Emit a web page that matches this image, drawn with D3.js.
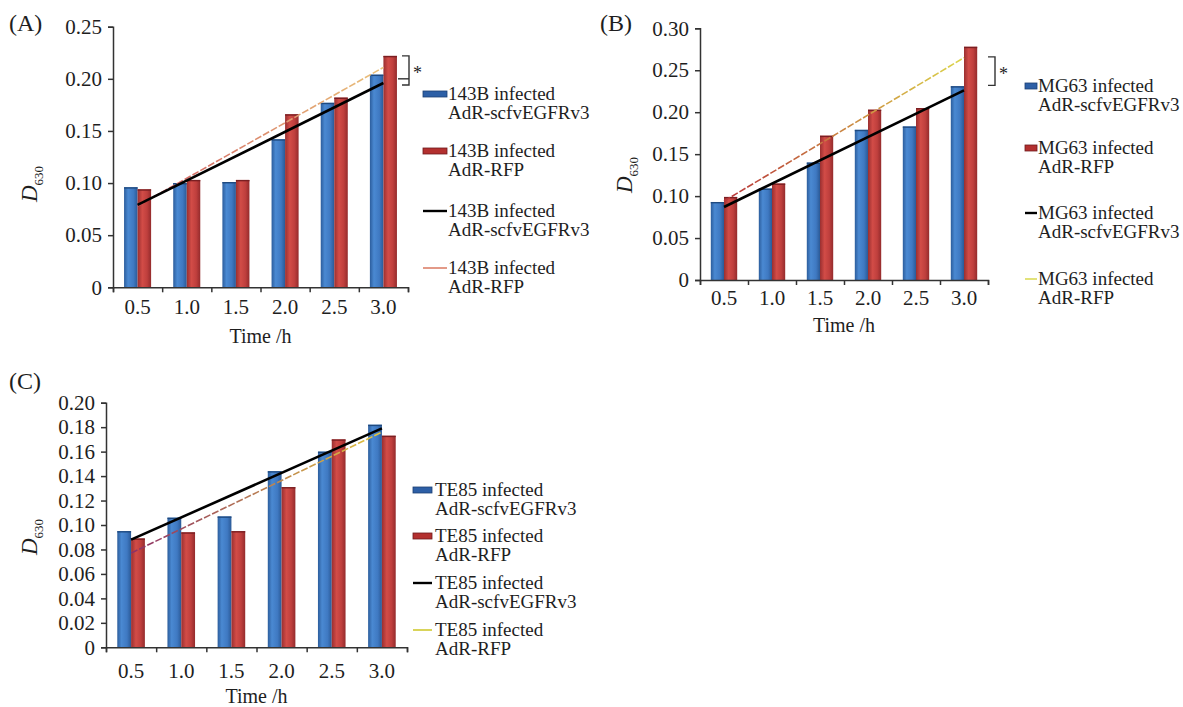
<!DOCTYPE html>
<html>
<head>
<meta charset="utf-8">
<script src="https://cdn.jsdelivr.net/npm/d3@7"></script>
<style>
  body { margin: 0; background: #fff; }
  text { font-family: "Liberation Serif", "Times New Roman", serif; fill: #1e1e1e; }
</style>
</head>
<body>
<svg id="chart" width="1183" height="707"></svg>
<script>
// time points (h)
var times = ["0.5", "1.0", "1.5", "2.0", "2.5", "3.0"];

// D630 values
var blueA = [0.096, 0.100, 0.101, 0.142, 0.177, 0.204];
var redA  = [0.094, 0.103, 0.103, 0.166, 0.182, 0.222];
var blueB = [0.093, 0.109, 0.140, 0.179, 0.183, 0.231];
var redB  = [0.099, 0.115, 0.172, 0.203, 0.205, 0.278];
var blueC = [0.095, 0.106, 0.107, 0.144, 0.160, 0.182];
var redC  = [0.089, 0.094, 0.095, 0.131, 0.170, 0.173];

// trend lines, value at 0.5 h and at 3.0 h
var trendBlueA = [0.079, 0.196], trendRedA = [0.078, 0.211];
var trendBlueB = [0.087, 0.226], trendRedB = [0.094, 0.265];
var trendBlueC = [0.088, 0.179], trendRedC = [0.077, 0.176];

// significance brackets (top, bottom value)
var bracketA = [0.222, 0.194];
var bracketB = [0.266, 0.232];

// y tick values
var ticksA = [0, 0.05, 0.10, 0.15, 0.20, 0.25];
var ticksB = [0, 0.05, 0.10, 0.15, 0.20, 0.25, 0.30];
var ticksC = [0, 0.02, 0.04, 0.06, 0.08, 0.10, 0.12, 0.14, 0.16, 0.18, 0.20];

var vectors = ["AdR-scfvEGFRv3", "AdR-RFP", "AdR-scfvEGFRv3", "AdR-RFP"];

var svg = d3.select("#chart");
var defs = svg.append("defs");

// cylinder-ish shading of the bars
function barGradient(id, stops) {
  var g = defs.append("linearGradient").attr("id", id)
    .attr("x1", "0%").attr("x2", "100%").attr("y1", "0%").attr("y2", "0%");
  stops.forEach(s => g.append("stop").attr("offset", s[0]).attr("stop-color", s[1]));
}
barGradient("gBlue", [["0%", "#2c5d9c"], ["30%", "#4a89d2"], ["70%", "#3f79c2"], ["100%", "#2b5a97"]]);
barGradient("gRed", [["0%", "#9a2f30"], ["35%", "#d24c47"], ["70%", "#bf3f3d"], ["100%", "#942b2c"]]);

var panels = [
  { id: "A", cell: "143B", blue: blueA, red: redA, tb: trendBlueA, tr: trendRedA, ticks: ticksA,
    yMax: 0.25, left: 113, right: 408, bottom: 287.3, top: 26.7,
    trendCols: ["#cf5a63", "#eac27a"], legCol: "#e39a88",
    labelPos: [9, 31], yLab: [37, 184], xLab: 343, xTickOff: 12,
    leg: { x: 423, w: 24, tx: 448, rows: [94, 151, 211, 268] },
    bracket: bracketA, brX: 409, brDash: 398 },
  { id: "B", cell: "MG63", blue: blueB, red: redB, tb: trendBlueB, tr: trendRedB, ticks: ticksB,
    yMax: 0.30, left: 700, right: 988, bottom: 280, top: 28.3,
    trendCols: ["#b8353a", "#dcd64a"], legCol: "#e2e27a",
    labelPos: [600, 31], yLab: [632, 175], xLab: 332, xTickOff: 10,
    leg: { x: 1025, w: 12, tx: 1038, rows: [86, 148, 213, 279] },
    bracket: bracketB, brX: 995, brDash: null },
  { id: "C", cell: "TE85", blue: blueC, red: redC, tb: trendBlueC, tr: trendRedC, ticks: ticksC,
    yMax: 0.20, left: 106, right: 407, bottom: 647.3, top: 402.7,
    trendCols: ["#8c2f66", "#e2c63e"], legCol: "#d9d45a",
    labelPos: [9, 389], yLab: [37, 537], xLab: 703, xTickOff: 16,
    leg: { x: 413, w: 19, tx: 435, rows: [490, 536, 583, 630] },
    bracket: null }
];

panels.forEach(drawPanel);

function drawPanel(p) {
  var g = svg.append("g");

  var x0 = d3.scaleBand().domain(times).range([p.left, p.right])
    .paddingInner(0.45).paddingOuter(0.225);
  var x1 = d3.scaleBand().domain(["blue", "red"]).range([0, x0.bandwidth()]);
  var y = d3.scaleLinear().domain([0, p.yMax]).range([p.bottom, p.top]);
  var xEdge = d3.scaleLinear().domain([0, times.length]).range([p.left, p.right]);

  // bars
  var rows = times.map((t, i) => ({ t: t, blue: p.blue[i], red: p.red[i] }));
  var grp = g.selectAll("g.grp").data(rows).enter().append("g")
    .attr("transform", d => `translate(${x0(d.t)},0)`);
  grp.selectAll("rect").data(d => [["blue", d.blue], ["red", d.red]]).enter().append("rect")
    .attr("x", d => x1(d[0]))
    .attr("width", x1.bandwidth())
    .attr("y", d => y(d[1]))
    .attr("height", d => y(0) - y(d[1]))
    .attr("fill", d => d[0] === "blue" ? "url(#gBlue)" : "url(#gRed)");
  grp.selectAll("line.cap").data(d => [["blue", d.blue], ["red", d.red]]).enter().append("line")
    .attr("x1", d => x1(d[0])).attr("x2", d => x1(d[0]) + x1.bandwidth())
    .attr("y1", d => y(d[1]) + 0.7).attr("y2", d => y(d[1]) + 0.7)
    .attr("stroke", d => d[0] === "blue" ? "#1f4a80" : "#7a1f22").attr("stroke-width", 1.4);

  // trend lines
  var cx = t => x0(t) + x0.bandwidth() / 2;
  var xa = cx(times[0]), xb = cx(times[times.length - 1]);
  var gid = "gTrend" + p.id;
  var tg = defs.append("linearGradient").attr("id", gid).attr("gradientUnits", "userSpaceOnUse")
    .attr("x1", xa).attr("x2", xb).attr("y1", 0).attr("y2", 0);
  tg.append("stop").attr("offset", "0%").attr("stop-color", p.trendCols[0]);
  tg.append("stop").attr("offset", "100%").attr("stop-color", p.trendCols[1]);

  g.append("line")
    .attr("x1", xa).attr("y1", y(p.tr[0])).attr("x2", xb).attr("y2", y(p.tr[1]))
    .attr("stroke", `url(#${gid})`).attr("stroke-width", 1.6).attr("stroke-dasharray", "7,2");
  g.append("line")
    .attr("x1", xa).attr("y1", y(p.tb[0])).attr("x2", xb).attr("y2", y(p.tb[1]))
    .attr("stroke", "#000").attr("stroke-width", 2.6);

  // axes
  var yAxis = d3.axisLeft(y).tickValues(p.ticks).tickSize(5).tickPadding(6)
    .tickFormat(d => d === 0 ? "0" : d3.format(".2f")(d));
  var ya = g.append("g").attr("transform", `translate(${p.left},0)`).call(yAxis);

  var xa0 = g.append("g").attr("transform", `translate(0,${p.bottom})`)
    .call(d3.axisBottom(xEdge).tickValues(d3.range(times.length + 1)).tickSize(5).tickFormat(""));
  var xl = g.append("g").attr("transform", `translate(0,${p.bottom})`)
    .call(d3.axisBottom(x0).tickSize(0).tickPadding(p.xTickOff));
  xl.select(".domain").remove();

  [ya, xa0].forEach(a => {
    a.select(".domain").attr("stroke", "#333").attr("stroke-width", 1.5);
    a.selectAll(".tick line").attr("stroke", "#333").attr("stroke-width", 1.5);
  });
  g.selectAll(".tick text").attr("font-size", 21).attr("fill", "#1e1e1e")
    .style("font-family", "'Liberation Serif', serif");

  // axis titles
  g.append("text").attr("x", (p.left + p.right) / 2).attr("y", p.xLab)
    .attr("text-anchor", "middle").attr("font-size", 20).text("Time /h");
  var yt = g.append("text")
    .attr("transform", `translate(${p.yLab[0]},${p.yLab[1]}) rotate(-90)`)
    .attr("text-anchor", "middle");
  yt.append("tspan").attr("font-size", 23).attr("font-style", "italic").text("D");
  yt.append("tspan").attr("font-size", 13).attr("dy", 6).text("630");

  // panel letter
  g.append("text").attr("x", p.labelPos[0]).attr("y", p.labelPos[1])
    .attr("font-size", 24).text(`(${p.id})`);

  // significance bracket
  if (p.bracket) {
    var bt = y(p.bracket[0]), bb = y(p.bracket[1]);
    g.append("path")
      .attr("d", `M${p.brX - 7},${bt}H${p.brX}V${bb}H${p.brX - 7}`)
      .attr("fill", "none").attr("stroke", "#333").attr("stroke-width", 1.4);
    if (p.brDash) {
      g.append("line").attr("x1", p.brDash).attr("x2", p.brX)
        .attr("y1", y(0.20)).attr("y2", y(0.20))
        .attr("stroke", "#333").attr("stroke-width", 1.4);
    }
    g.append("text").attr("x", p.brX + 4).attr("y", (bt + bb) / 2 + 9)
      .attr("font-size", 18).text("*");
  }

  // legend
  var L = p.leg;
  var legend = g.selectAll("g.leg").data(vectors).enter().append("g")
    .attr("transform", (d, i) => `translate(0,${L.rows[i]})`);
  legend.each(function (d, i) {
    var s = d3.select(this);
    if (i < 2) {
      s.append("rect").attr("x", L.x).attr("y", -3).attr("width", L.w).attr("height", 6)
        .attr("fill", i === 0 ? "#2d5fa6" : "#b3302f")
        .attr("stroke", i === 0 ? "#1c3f73" : "#6e1b1c").attr("stroke-width", 0.8);
    } else {
      s.append("line").attr("x1", L.x).attr("x2", L.x + L.w).attr("y1", 0).attr("y2", 0)
        .attr("stroke", i === 2 ? "#000" : p.legCol).attr("stroke-width", i === 2 ? 2.4 : 2);
    }
    s.append("text").attr("x", L.tx).attr("y", 6).attr("font-size", 19)
      .text(p.cell + " infected");
    s.append("text").attr("x", L.tx).attr("y", 25).attr("font-size", 19).text(d);
  });
}
</script>
</body>
</html>
